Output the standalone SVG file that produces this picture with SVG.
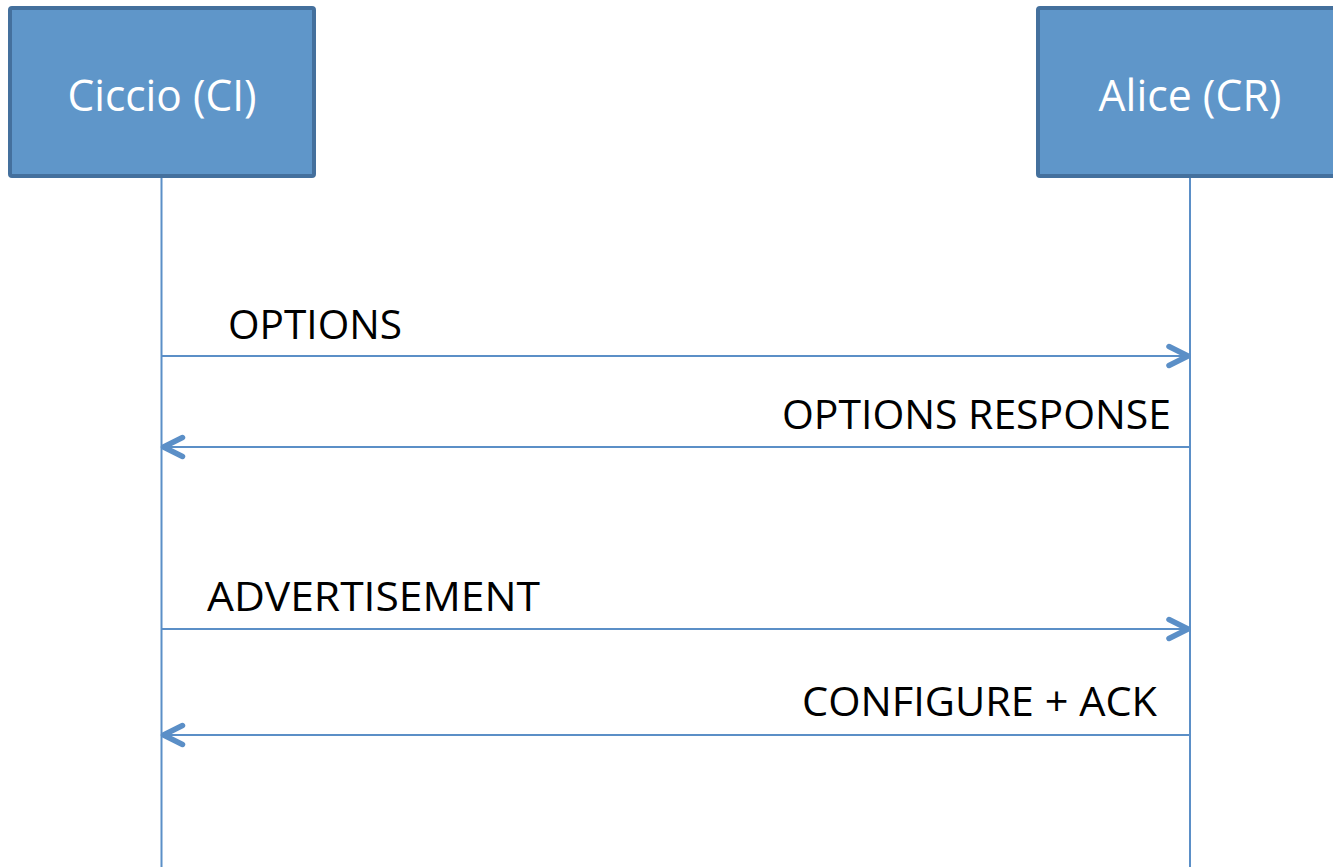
<svg xmlns="http://www.w3.org/2000/svg" width="1333" height="867" viewBox="0 0 1333 867">
<style>
.box{fill:#5F96C9;stroke:#44709D;stroke-width:4}
.hdr{font-family:"Open Sans","Liberation Sans",sans-serif;font-size:43px;fill:#FFFFFF;text-anchor:middle}
.lbl{font-family:"Open Sans","Liberation Sans",sans-serif;font-size:41px;fill:#000000}
.life{stroke:#5B8FC7;stroke-width:2;fill:none}
.msg{stroke:#5B8FC7;stroke-width:2;fill:none}
</style>
<defs>
<marker id="arr" viewBox="0 0 28 26" refX="24" refY="13" markerWidth="28" markerHeight="26" markerUnits="userSpaceOnUse" orient="auto-start-reverse">
<path d="M4,3.5 L23,13 L4,22.5" fill="none" stroke="#5B8FC7" stroke-width="5.5" stroke-linecap="round" stroke-linejoin="round"/>
</marker>
</defs>
<rect width="1333" height="867" fill="#FFFFFF"/>
<g id="lifelines">
<line class="life" x1="161.5" y1="177" x2="161.5" y2="867"/>
<line class="life" x1="1190" y1="177" x2="1190" y2="867"/>
</g>
<g id="ciccio">
<rect class="box" x="10" y="8" width="304" height="168" rx="2"/>
<text class="hdr" x="162" y="111" textLength="189" lengthAdjust="spacingAndGlyphs">Ciccio (CI)</text>
</g>
<g id="alice">
<rect class="box" x="1038" y="8" width="310" height="168" rx="2"/>
<text class="hdr" x="1190" y="111" textLength="183" lengthAdjust="spacingAndGlyphs">Alice (CR)</text>
</g>
<g id="connectors">
<line class="msg" x1="161.5" y1="356" x2="1189" y2="356" marker-end="url(#arr)"/>
<line class="msg" x1="1190" y1="447" x2="162.5" y2="447" marker-end="url(#arr)"/>
<line class="msg" x1="161.5" y1="629" x2="1189" y2="629" marker-end="url(#arr)"/>
<line class="msg" x1="1190" y1="735" x2="162.5" y2="735" marker-end="url(#arr)"/>
</g>
<g id="labels">
<text class="lbl" x="228" y="339" textLength="174" lengthAdjust="spacingAndGlyphs">OPTIONS</text>
<text class="lbl" x="782" y="429" textLength="389" lengthAdjust="spacingAndGlyphs">OPTIONS RESPONSE</text>
<text class="lbl" x="207" y="611" textLength="333" lengthAdjust="spacingAndGlyphs">ADVERTISEMENT</text>
<text class="lbl" x="802" y="716" textLength="355" lengthAdjust="spacingAndGlyphs">CONFIGURE + ACK</text>
</g>
</svg>
